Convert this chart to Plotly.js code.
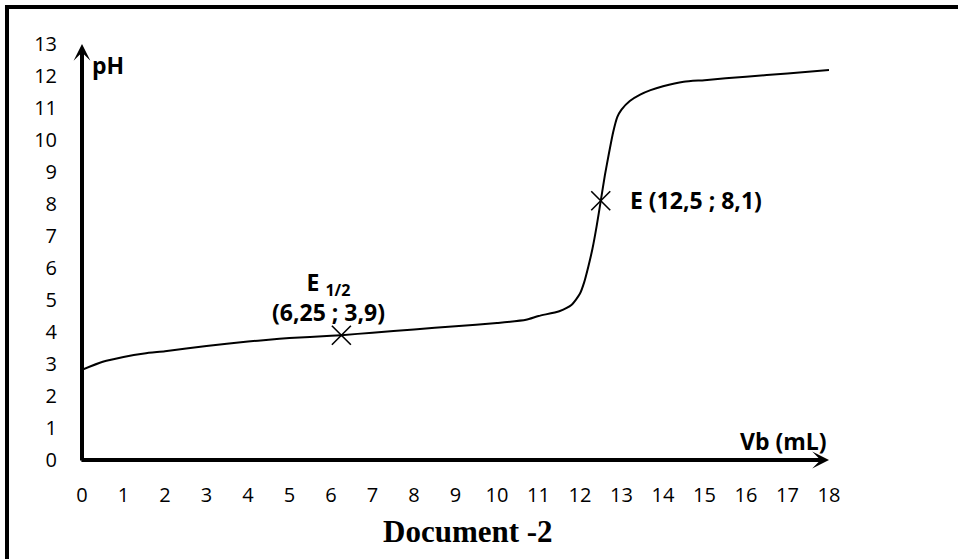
<!DOCTYPE html>
<html>
<head>
<meta charset="utf-8">
<script src="https://cdn.plot.ly/plotly-3.0.1.min.js"></script>
<style>
  html, body { margin: 0; padding: 0; background: #fff; }
  #chart { width: 958px; height: 559px; }
</style>
</head>
<body>
<div id="chart"></div>
<script>
// Titration curve: pH versus volume of base added (Vb, mL)
const vb = [0, 0.5, 1, 1.5, 2, 3, 4, 4.5, 5, 6, 6.25, 7, 8, 9, 10, 10.7, 11, 11.5, 11.8, 12, 12.1, 12.2, 12.3, 12.4, 12.5, 12.6, 12.7, 12.8, 12.9, 13, 13.2, 13.45, 13.7, 14, 14.5, 15, 16, 17, 18];
const ph = [2.82, 3.07, 3.22, 3.33, 3.40, 3.56, 3.70, 3.76, 3.81, 3.88, 3.90, 3.98, 4.08, 4.18, 4.28, 4.38, 4.50, 4.65, 4.85, 5.20, 5.55, 6.04, 6.60, 7.30, 8.10, 8.90, 9.60, 10.25, 10.72, 10.95, 11.22, 11.42, 11.56, 11.68, 11.82, 11.87, 11.98, 12.08, 12.19];

// Remarkable points
const pointX = [6.25, 12.5];
const pointY = [3.9, 8.1];

// Axis ticks
const xTicks = [0, 1, 2, 3, 4, 5, 6, 7, 8, 9, 10, 11, 12, 13, 14, 15, 16, 17, 18];
const yTicks = [0, 1, 2, 3, 4, 5, 6, 7, 8, 9, 10, 11, 12, 13];

const tickFont = { family: 'Open Sans', size: 20, color: '#000' };
const boldFont = { family: 'Open Sans', size: 23, color: '#000' };

const traces = [
  {
    x: vb, y: ph, type: 'scatter', mode: 'lines',
    line: { color: '#000', width: 2, shape: 'spline', smoothing: 0.6 },
    hoverinfo: 'x+y', cliponaxis: false
  },
  {
    x: pointX, y: pointY, type: 'scatter', mode: 'markers',
    marker: { symbol: 'x-thin-open', size: 19, color: '#000', line: { color: '#000', width: 1.6 } },
    cliponaxis: false
  }
];

const layout = {
  width: 958, height: 559,
  margin: { l: 82, r: 129, t: 44, b: 99, pad: 0 },
  paper_bgcolor: '#fff', plot_bgcolor: '#fff',
  showlegend: false,
  xaxis: {
    range: [0, 18], tickvals: xTicks, ticktext: xTicks.map(String),
    showgrid: false, zeroline: false, showline: false,
    ticks: 'outside', ticklen: 17, tickcolor: 'rgba(0,0,0,0)',
    tickfont: tickFont, fixedrange: true
  },
  yaxis: {
    range: [0, 13], tickvals: yTicks, ticktext: yTicks.map(String),
    showgrid: false, zeroline: false, showline: false,
    ticks: 'outside', ticklen: 20, tickcolor: 'rgba(0,0,0,0)',
    tickfont: tickFont, fixedrange: true
  },
  shapes: [
    { type: 'line', xref: 'paper', yref: 'paper', x0: -0.1004, x1: -0.1004, y0: -0.25, y1: 1.089, line: { color: '#000', width: 4 } },
    { type: 'line', xref: 'paper', yref: 'paper', x0: -0.1031, x1: 1.18, y0: 1.089, y1: 1.089, line: { color: '#000', width: 4 } }
  ],
  annotations: [
    // x axis arrow
    { x: 18, y: 0, ax: -0.05, ay: 0, xref: 'x', yref: 'y', axref: 'x', ayref: 'y', text: '', showarrow: true,
      arrowhead: 3, arrowsize: 0.7, arrowwidth: 4, arrowcolor: '#000', standoff: 0 },
    // y axis arrow
    { x: 0, y: 13, ax: 0, ay: -0.06, xref: 'x', yref: 'y', axref: 'x', ayref: 'y', text: '', showarrow: true,
      arrowhead: 3, arrowsize: 0.7, arrowwidth: 4, arrowcolor: '#000', standoff: 0 },
    { x: 0, y: 12.34, xref: 'x', yref: 'y', xanchor: 'left', yanchor: 'middle', xshift: 8,
      text: '<b>pH</b>', showarrow: false, font: boldFont },
    { x: 18, y: 0.6, xref: 'x', yref: 'y', xanchor: 'right', yanchor: 'middle',
      text: '<b>Vb (mL)</b>', showarrow: false, font: boldFont },
    { x: 13.16, y: 8.12, xref: 'x', yref: 'y', xanchor: 'left', yanchor: 'middle',
      text: '<b>E (12,5 ; 8,1)</b>', showarrow: false, font: boldFont },
    { x: 5.95, y: 5.1, xref: 'x', yref: 'y', xanchor: 'center', yanchor: 'middle', align: 'center',
      text: '<b>E <sub>1/2</sub></b><br><b>(6,25 ; 3,9)</b>', showarrow: false, font: boldFont },
    { x: 0.5167, y: -0.173, xref: 'paper', yref: 'paper', xanchor: 'center', yanchor: 'middle',
      text: '<b>Document -2</b>', showarrow: false,
      font: { family: 'Liberation Serif', size: 31, color: '#000' } }
  ]
};

Plotly.newPlot('chart', traces, layout, { displayModeBar: false, staticPlot: true });
</script>
</body>
</html>
